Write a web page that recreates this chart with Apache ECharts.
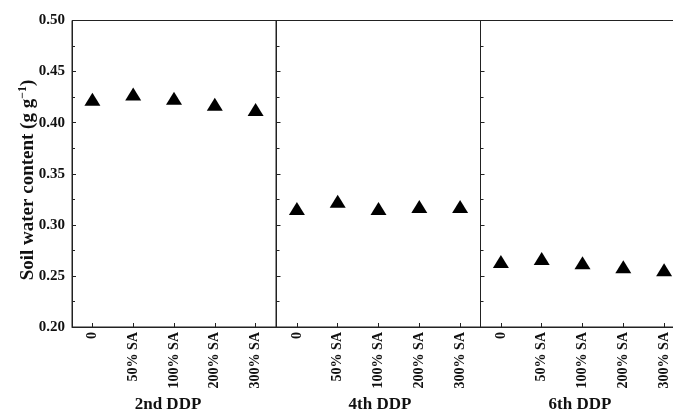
<!DOCTYPE html>
<html>
<head>
<meta charset="utf-8">
<script src="https://cdn.jsdelivr.net/npm/echarts@6/dist/echarts.min.js"></script>
<style>
html,body{margin:0;padding:0;background:#fff;overflow:hidden;width:673px;height:414px;}
#chart{width:700px;height:414px;}
</style>
</head>
<body>
<div id="chart"></div>
<script>
const categories = ['0', '50% SA', '100% SA', '200% SA', '300% SA'];
const panelNames = ['2nd DDP', '4th DDP', '6th DDP'];
const ddp2 = [0.423, 0.428, 0.424, 0.418, 0.413];
const ddp4 = [0.316, 0.323, 0.316, 0.318, 0.318];
const ddp6 = [0.264, 0.267, 0.263, 0.259, 0.256];
const yMin = 0.20, yMax = 0.50, yInterval = 0.05;
const yTitle = 'Soil water content (g g';
const yTitleSup = '\u22121';

const seriesData = [ddp2, ddp4, ddp6];
const FONT = '"Liberation Serif", "Times New Roman", serif';
const AX = '#222';
const lefts = [72, 276.5, 480.5];
const W = 204;
const TOP = 20.5, H = 306.5;
const nameX = [168, 380, 580];

const grids = [], xAxes = [], yAxes = [], series = [], graphics = [];
for (let i = 0; i < 3; i++) {
  grids.push({left: lefts[i], top: TOP, width: W, height: H, show: true,
    borderColor: AX, borderWidth: 1, backgroundColor: 'transparent'});
  xAxes.push({
    type: 'category', gridIndex: i, data: categories, boundaryGap: true,
    axisLine: {show: true, lineStyle: {color: AX, width: 1}},
    axisTick: {show: true, inside: true, alignWithLabel: true, length: 4, lineStyle: {color: AX}},
    axisLabel: {interval: 0, rotate: 90, margin: 5, color: '#111', fontFamily: FONT,
      fontWeight: 'bold', fontSize: 14},
    splitLine: {show: false}
  });
  yAxes.push({
    type: 'value', gridIndex: i, min: yMin, max: yMax, interval: yInterval,
    axisLine: {show: true, lineStyle: {color: AX, width: 1}},
    axisTick: {show: true, inside: true, length: 4, lineStyle: {color: AX}},
    minorTick: {show: true, splitNumber: 2, length: 3, lineStyle: {color: AX}},
    splitLine: {show: false},
    axisLabel: {show: i === 0, color: '#111', fontFamily: FONT, fontWeight: 'bold', fontSize: 15,
      margin: 7, formatter: v => v.toFixed(2)}
  });
  series.push({
    type: 'scatter', xAxisIndex: i, yAxisIndex: i, data: seriesData[i],
    symbol: 'triangle', symbolSize: [16, 13],
    itemStyle: {color: '#000', opacity: 1}, silent: true
  });
  graphics.push({
    type: 'text', x: nameX[i], y: 396, style: {
      text: panelNames[i], fill: '#111', font: 'bold 17px ' + FONT, textAlign: 'center'
    }
  });
}
graphics.push({
  type: 'text', x: 27, y: 180, rotation: Math.PI / 2,
  style: {
    text: '{a|' + yTitle + '}{b|' + yTitleSup + '}{a|)}',
    textAlign: 'center', textVerticalAlign: 'middle',
    rich: {
      a: {fontFamily: FONT, fontWeight: 'bold', fontSize: 19, fill: '#111', lineHeight: 21, verticalAlign: 'bottom'},
      b: {fontFamily: FONT, fontWeight: 'bold', fontSize: 12, fill: '#111', lineHeight: 21, verticalAlign: 'top', padding: [0, 0, 7, 0]}
    }
  }
});

const chart = echarts.init(document.getElementById('chart'), null, {renderer: 'canvas'});
chart.setOption({
  animation: false,
  backgroundColor: '#fff',
  grid: grids, xAxis: xAxes, yAxis: yAxes, series: series,
  graphic: graphics
});
</script>
</body>
</html>
